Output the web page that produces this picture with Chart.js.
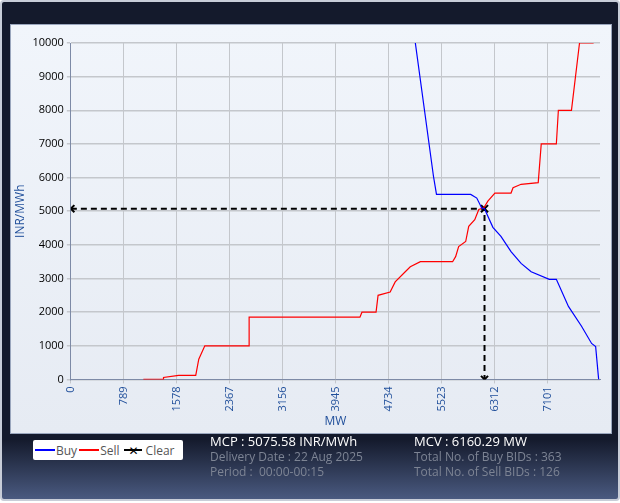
<!DOCTYPE html>
<html>
<head>
<meta charset="utf-8">
<script src="https://cdn.jsdelivr.net/npm/chart.js@4"></script>
<style>
  body { margin:0; width:620px; height:503px; background:#fff; font-family:"Open Sans","DejaVu Sans",sans-serif; }
  #frame { position:absolute; left:0; top:0; width:616px; height:497px; border:2px solid #c8cdd8; border-radius:4px;
           background:linear-gradient(#141a2c 0%, #141a2c 88%, #4a5a80 100%); }
  #panel { position:absolute; left:10px; top:24px; width:600px; height:408px; border:1px solid #9aa6bd;
           background:linear-gradient(#f1f5fb, #e6ebf3); }
  #legend { position:absolute; left:33px; top:440px; width:150px; height:20px; background:#fff; border-radius:2px;
            font-size:12px; color:#555; display:flex; align-items:center; }
  .ln { display:inline-block; width:20px; height:2px; margin:0 1px 0 2px; }
  .info { position:absolute; font-size:12px; color:#7d8494; line-height:15px; }
  .info b { font-weight:normal; color:#fff; font-size:13px; }
</style>
</head>
<body>
<div id="frame"></div>
<div id="panel"><canvas id="c" width="600" height="408"></canvas></div>
<div id="legend">
  <span class="ln" style="background:#0000ff"></span>Buy<span class="ln" style="background:#ff0000"></span>Sell<span class="ln" style="background:#000;width:18px;margin-left:4px"></span><span style="font-weight:bold;color:#000;margin:0 3px 0 -14px">✕</span><span style="margin-left:4px">Clear</span>
</div>
<div class="info" style="left:210px;top:434px"><b>MCP : 5075.58 INR/MWh</b><br>Delivery Date : 22 Aug 2025<br>Period :&nbsp; 00:00-00:15</div>
<div class="info" style="left:414px;top:434px"><b>MCV : 6160.29 MW</b><br>Total No. of Buy BIDs : 363<br>Total No. of Sell BIDs : 126</div>
<script>
const buyMW    = [5130, 5400, 5445, 5955, 6045, 6120, 6160, 6285, 6405, 6555, 6705, 6855, 7125, 7230, 7410, 7605, 7755, 7815, 7860];
const buyPrice = [10000, 6040, 5500, 5500, 5390, 5090, 5075, 4520, 4250, 3800, 3450, 3200, 2975, 2975, 2170, 1580, 1070, 980, 0];
const sellMW    = [1080, 1380, 1380, 1605, 1860, 1905, 1995, 2655, 2655, 4305, 4335, 4545, 4575, 4755, 4830, 4980, 5055, 5205, 5685, 5730, 5775, 5880, 5925, 6015, 6075, 6150, 6210, 6315, 6555, 6585, 6705, 6960, 7005, 7230, 7260, 7455, 7575, 7785];
const sellPrice = [0, 0, 60, 120, 120, 600, 1000, 1000, 1850, 1850, 2000, 2000, 2500, 2600, 2900, 3200, 3350, 3500, 3500, 3650, 3950, 4100, 4550, 4750, 5050, 5100, 5300, 5540, 5540, 5700, 5800, 5850, 7000, 7000, 8000, 8000, 10000, 10000];
const clearMW = [0, 6160.29, 6160.29];
const clearPrice = [5075.58, 5075.58, 0];
const xTicks = [0, 789, 1578, 2367, 3156, 3945, 4734, 5523, 6312, 7101];

const pts = (xs, ys) => xs.map((x, i) => ({ x, y: ys[i] }));
const tickColor = '#1f4e9a';
const font = { family: '"Open Sans","DejaVu Sans",sans-serif', size: 11 };

new Chart(document.getElementById('c'), {
  type: 'line',
  data: {
    datasets: [
      { label: 'Buy', data: pts(buyMW, buyPrice), borderColor: '#0000ff', borderWidth: 1.2, pointRadius: 0 },
      { label: 'Sell', data: pts(sellMW, sellPrice), borderColor: '#ff0000', borderWidth: 1.2, pointRadius: 0 },
      { label: 'Clear', data: pts(clearMW, clearPrice), borderColor: '#000', borderWidth: 2, borderDash: [6, 4],
        pointStyle: 'crossRot', pointRadius: 5, pointBorderWidth: 2, pointBorderColor: '#000' }
    ]
  },
  options: {
    responsive: false,
    animation: false,
    layout: { padding: { top: 18, right: 11, left: 0, bottom: 4 } },
    plugins: { legend: { display: false }, tooltip: { enabled: false } },
    scales: {
      x: {
        type: 'linear', min: 0, max: 7880,
        afterBuildTicks: s => { s.ticks = xTicks.map(v => ({ value: v })); },
        ticks: { color: tickColor, font, maxRotation: 90, minRotation: 90, callback: v => String(v) },
        grid: { color: '#c4c7cc', drawTicks: true, tickLength: 4 },
        border: { color: '#7d8aa6' },
        title: { display: true, text: 'MW', color: tickColor, font: { ...font, size: 12 }, padding: 0 }
      },
      y: {
        min: 0, max: 10000,
        ticks: { stepSize: 1000, color: '#000', font, callback: v => String(v) },
        grid: { color: '#c4c7cc', lineWidth: 1.5, tickLength: 4 },
        border: { color: '#7d8aa6' },
        title: { display: true, text: 'INR/MWh', color: tickColor, font: { ...font, size: 12 }, padding: 2 }
      }
    }
  }
});
</script>
</body>
</html>
